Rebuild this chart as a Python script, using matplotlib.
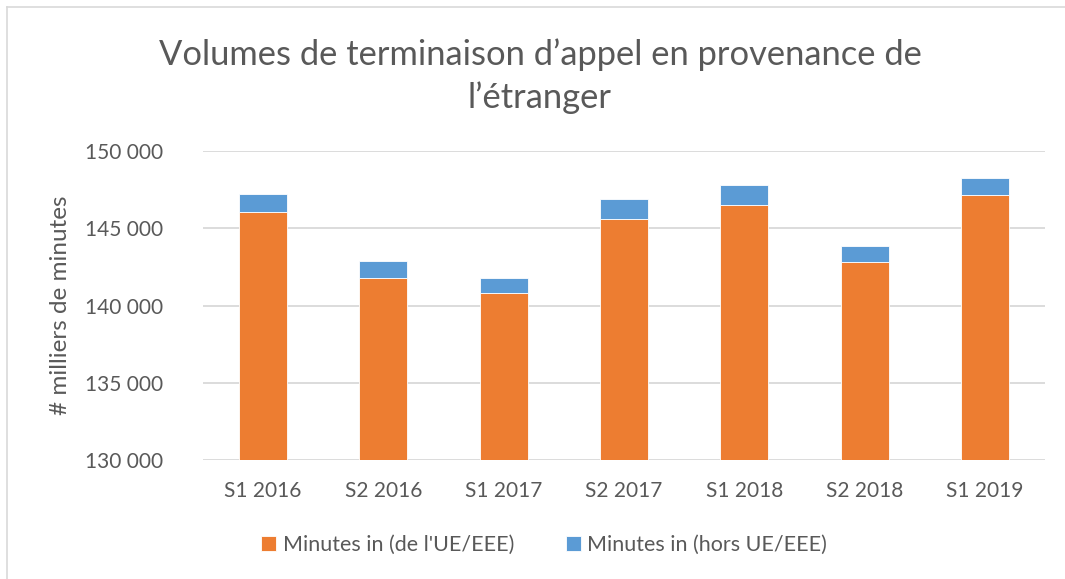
import matplotlib.pyplot as plt
from matplotlib.lines import Line2D
from matplotlib.ticker import FuncFormatter, MultipleLocator

periods = ["S1 2016", "S2 2016", "S1 2017", "S2 2017", "S1 2018", "S2 2018", "S1 2019"]
minutes_ue = [146070, 141780, 140810, 145620, 146510, 142860, 147180]
minutes_hors_ue = [1170, 1110, 990, 1270, 1300, 1000, 1080]

orange = "#ED7D31"
blue = "#5B9BD5"
grey_text = "#595959"
grid_col = "#D9D9D9"

plt.rcParams["font.family"] = ["Lato", "DejaVu Sans"]

fig = plt.figure(figsize=(10.65, 5.79), dpi=100)
ax = fig.add_axes([203 / 1065, 1 - 460 / 579, 842 / 1065, (460 - 151.3) / 579])

x = range(len(periods))
ax.bar(x, minutes_ue, width=0.4, color=orange, edgecolor="white", linewidth=0.6,
       label="Minutes in (de l'UE/EEE)", zorder=3)
ax.bar(x, minutes_hors_ue, width=0.4, bottom=minutes_ue, color=blue, edgecolor="white",
       linewidth=0.6, label="Minutes in (hors UE/EEE)", zorder=3)

ax.set_xlim(-0.5, len(periods) - 0.5)
ax.set_ylim(130000, 150000)
ax.yaxis.set_major_locator(MultipleLocator(5000))
ax.yaxis.set_major_formatter(FuncFormatter(lambda v, p: f"{int(v):,}".replace(",", " ")))
ax.set_xticks(list(x))
ax.set_xticklabels(periods)
ax.tick_params(axis="both", length=0, labelsize=15, labelcolor=grey_text)
ax.tick_params(axis="y", pad=29)
ax.tick_params(axis="x", pad=15)
ax.grid(axis="y", color=grid_col, linewidth=1.3, zorder=0)
for s in ax.spines.values():
    s.set_visible(False)

ax.set_ylabel("# milliers de minutes", fontsize=17.5, color=grey_text, labelpad=10)

fig.text(540 / 1065, 1 - 76 / 579, "Volumes de terminaison d’appel en provenance de\nl’étranger",
         ha="center", va="center", fontsize=24.8, color=grey_text, linespacing=1.4)

fig.legend(loc="center", bbox_to_anchor=(544 / 1065, 1 - 545 / 579), ncol=2, frameon=False,
           fontsize=15.5, handlelength=0.7, handleheight=0.7, handletextpad=0.3,
           columnspacing=2.4, labelcolor=grey_text)

# chart area border (top and left edges visible)
fig.add_artist(Line2D([7 / 1065, 1], [1 - 7 / 579, 1 - 7 / 579], color=grid_col, linewidth=1.2))
fig.add_artist(Line2D([7 / 1065, 7 / 1065], [0, 1 - 7 / 579], color=grid_col, linewidth=1.2))

fig.savefig("out.png", dpi=100)
